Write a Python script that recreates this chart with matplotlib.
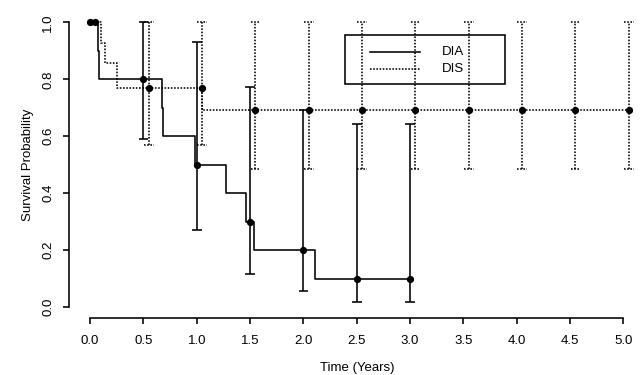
import matplotlib
matplotlib.use("Agg")
import matplotlib.pyplot as plt
import numpy as np
from matplotlib.patches import Rectangle

plt.rcParams["font.family"] = ["Liberation Sans", "DejaVu Sans"]
plt.rcParams["font.size"] = 9.5

# Kaplan-Meier step curves (time of each step, survival after it)
dia_t = [0.0, 0.072, 0.084, 0.672, 0.681, 0.984, 1.272, 1.459, 1.537, 2.109, 3.0]
dia_s = [1.0, 0.9, 0.8, 0.7, 0.6, 0.5, 0.4, 0.3, 0.2, 0.1, 0.1]
dis_t = [0.0, 0.10, 0.141, 0.25, 1.052, 5.05]
dis_s = [1.0, 0.929, 0.857, 0.771, 0.694, 0.694]

# point estimates with confidence limits every half year
dia_pt = [0.0, 0.5, 1.0, 1.5, 2.0, 2.5, 3.0]
dia_est = [1.0, 0.8, 0.5, 0.3, 0.2, 0.1, 0.1]
dia_lo = [1.0, 0.59, 0.27, 0.116, 0.057, 0.017, 0.017]
dia_hi = [1.0, 1.0, 0.93, 0.772, 0.692, 0.642, 0.642]

dis_pt = [0.05, 0.55, 1.05, 1.55, 2.05, 2.55, 3.05, 3.55, 4.05, 4.55, 5.05]
dis_est = [1.0, 0.771, 0.771, 0.694, 0.694, 0.694, 0.694, 0.694, 0.694, 0.694, 0.694]
dis_lo = [1.0, 0.569, 0.569, 0.485, 0.485, 0.485, 0.485, 0.485, 0.485, 0.485, 0.485]
dis_hi = [1.0] * 11

x_ticks = [0.0, 0.5, 1.0, 1.5, 2.0, 2.5, 3.0, 3.5, 4.0, 4.5, 5.0]
y_ticks = [0.0, 0.2, 0.4, 0.6, 0.8, 1.0]

lw = 1.15
dotted = (0, (1, 1))
cap = 0.045


def draw_group(ax, t, s, pt, est, lo, hi, ls):
    ax.step(t, s, where="post", color="black", lw=lw, linestyle=ls)
    for x, l, h in zip(pt, lo, hi):
        if h - l < 1e-6:
            continue
        ax.vlines(x, l, h, color="black", lw=lw, linestyles=[ls])
        ax.hlines([l, h], x - cap, x + cap, color="black", lw=lw, linestyles=[ls])
    ax.plot(pt, est, "o", color="black", ms=4.2, zorder=5)


fig = plt.figure(figsize=(6.44, 3.75), dpi=100)
ax = fig.add_axes([0.1067, 0.1509, 0.8946, 0.8195])

draw_group(ax, dia_t, dia_s, dia_pt, dia_est, dia_lo, dia_hi, "solid")
draw_group(ax, dis_t, dis_s, dis_pt, dis_est, dis_lo, dis_hi, dotted)

ax.set_xlim(-0.2, 5.2)
ax.set_ylim(-0.04, 1.04)

for side in ["top", "right"]:
    ax.spines[side].set_visible(False)
ax.spines["bottom"].set_bounds(0, 5)
ax.spines["left"].set_bounds(0, 1)
for side in ["bottom", "left"]:
    ax.spines[side].set_linewidth(lw)

ax.set_xticks(x_ticks)
ax.set_xticklabels(["%.1f" % v for v in x_ticks])
ax.set_yticks(y_ticks)
ax.set_yticklabels(["%.1f" % v for v in y_ticks], rotation=90, va="center")
ax.tick_params(length=4.5, width=lw)
ax.tick_params(axis="x", pad=7.5)
ax.tick_params(axis="y", pad=6)

ax.set_xlabel("Time (Years)", labelpad=11)
ax.set_ylabel("Survival Probability", labelpad=6)

# legend box, drawn like the R one
ax.add_patch(Rectangle((0.4796, 0.7618), 0.2777, 0.1604, transform=ax.transAxes,
                       fill=False, edgecolor="black", lw=lw, zorder=6))
ax.plot([0.523, 0.6098], [0.866, 0.866], color="black", lw=lw, transform=ax.transAxes)
ax.plot([0.523, 0.6098], [0.8105, 0.8105], color="black", lw=lw, linestyle=dotted,
        transform=ax.transAxes)
ax.text(0.6475, 0.866, "DIA", transform=ax.transAxes, va="center", ha="left")
ax.text(0.6475, 0.8105, "DIS", transform=ax.transAxes, va="center", ha="left")

fig.savefig("out.png", dpi=100)
